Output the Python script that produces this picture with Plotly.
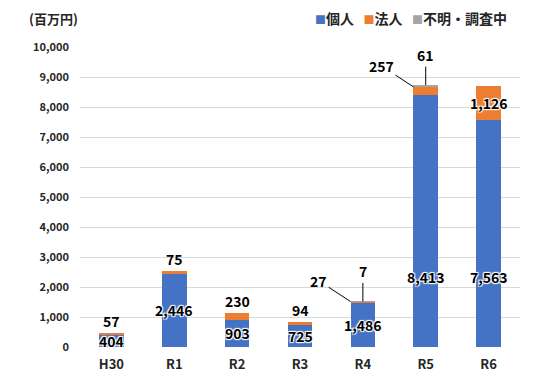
import plotly.graph_objects as go

categories = ["H30", "R1", "R2", "R3", "R4", "R5", "R6"]
kojin = [404, 2446, 903, 725, 1486, 8413, 7563]      # 個人
hojin = [57, 75, 230, 94, 27, 257, 1126]             # 法人
fumei = [0, 0, 0, 0, 7, 61, 0]                       # 不明・調査中
y_tickvals = [0, 1000, 2000, 3000, 4000, 5000, 6000, 7000, 8000, 9000, 10000]
y_ticktext = [f"{v:,}" for v in y_tickvals]
series_names = ["個人", "法人", "不明・調査中"]

BLUE = "#4472C4"
ORANGE = "#ED7D31"
GRAY = "#A5A5A5"
TXT = "#262626"
FONT = "Noto Sans CJK JP"
BAR_W = 0.39

fig = go.Figure()
for name, vals, col in zip(series_names, [kojin, hojin, fumei], [BLUE, ORANGE, GRAY]):
    fig.add_trace(go.Bar(
        x=categories, y=vals, name=name, width=BAR_W,
        marker=dict(color=col, line=dict(width=0)),
        showlegend=False, hoverinfo="x+y+name",
    ))

glow = "-1px -1px 1px #fff, 1px -1px 1px #fff, -1px 1px 1px #fff, 1px 1px 1px #fff"
lab_font = dict(size=14, color="#000", family=FONT, weight="bold")
ann = []
LABEL_CAP = 2330
for i, (k, h, f) in enumerate(zip(kojin, hojin, fumei)):
    # 個人 label (inside)
    ann.append(dict(x=i, y=min(k / 2, LABEL_CAP), text=f"{k:,}", showarrow=False,
                    font=dict(lab_font, shadow=glow)))
    total = k + h + f
    if f > 0:
        # leader-line labels
        ann.append(dict(x=i - BAR_W / 2, y=k + h, text=f"{h:,}", showarrow=True,
                        arrowhead=0, arrowwidth=1, arrowcolor="#000",
                        ax=-32, ay=-21, font=lab_font))
        ann.append(dict(x=i, y=total, text=f"{f:,}", showarrow=True,
                        arrowhead=0, arrowwidth=1, arrowcolor="#000",
                        ax=0, ay=-30, font=lab_font))
    elif h > 500:
        ann.append(dict(x=i, y=k + h / 2, text=f"{h:,}", showarrow=False,
                        font=dict(lab_font, shadow=glow)))
    else:
        ann.append(dict(x=i, y=total, text=f"{h:,}", showarrow=False, yanchor="bottom",
                        yshift=0, font=lab_font))

# unit label
ann.append(dict(xref="paper", yref="paper", x=-0.12, y=1.0, yshift=29, xanchor="left",
                yanchor="middle", text="(百万円)", showarrow=False,
                font=dict(size=13, color=TXT, family=FONT, weight="bold")))
# legend
legend_html = "&nbsp;&nbsp;&nbsp;".join(
    f'<span style="color:{c}; font-size:11px">■</span>{n}'
    for n, c in zip(series_names, [BLUE, ORANGE, GRAY])
)
ann.append(dict(xref="paper", yref="paper", x=0.975, y=1.0, yshift=29, xanchor="right",
                yanchor="middle", text=legend_html, showarrow=False,
                font=dict(size=14, color=TXT, family=FONT, weight="bold")))

# page body has an 8px default margin; margins below account for it
fig.update_layout(
    width=536, height=381,
    margin=dict(l=72, r=24, t=39, b=42),
    paper_bgcolor="white", plot_bgcolor="white",
    barmode="stack",
    font=dict(family=FONT, color=TXT),
    annotations=ann,
    xaxis=dict(type="category", range=[-0.5, 6.5], showgrid=False, zeroline=False,
               showline=False, ticks="", ticklabelstandoff=8,
               tickfont=dict(size=13, color=TXT, family=FONT, weight="bold")),
    yaxis=dict(range=[0, 10000], tickvals=y_tickvals, ticktext=y_ticktext,
               showgrid=True, gridcolor="#D9D9D9", gridwidth=1, zeroline=False,
               showline=False, ticks="", ticklabelstandoff=10,
               tickfont=dict(size=11, color=TXT, family=FONT, weight="bold")),
)

fig.write_html("out.html")
